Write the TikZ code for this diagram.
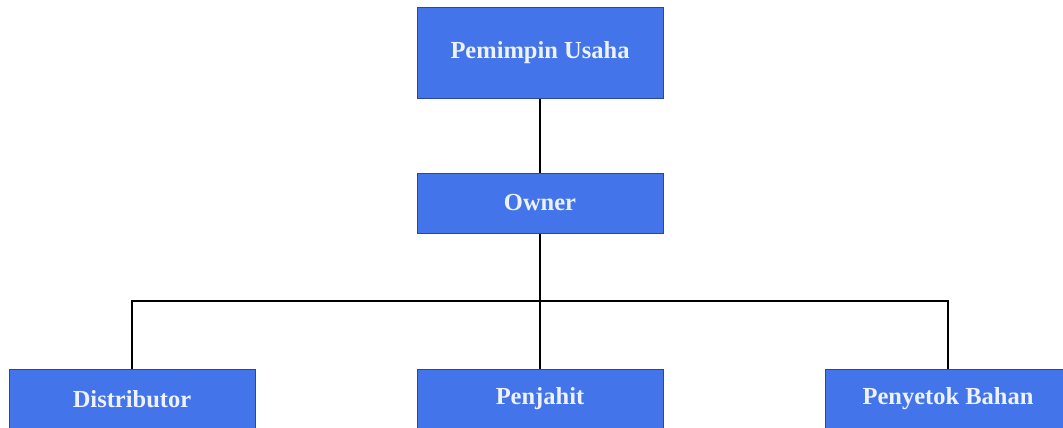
\documentclass[tikz,border=0pt]{standalone}
\usepackage{fontspec}
\setmainfont{Liberation Serif}
\definecolor{boxfill}{RGB}{68,116,234}
\definecolor{boxline}{RGB}{40,70,170}
\definecolor{boxtext}{RGB}{236,242,255}
\begin{document}
\begin{tikzpicture}[x=1pt,y=-1pt,
  orgbox/.style={draw=boxline,line width=1pt,fill=boxfill,rectangle,
    minimum width=246pt,inner sep=0pt,text=boxtext,
    font=\fontsize{24.5}{28}\selectfont\bfseries},
  link/.style={draw=black,line width=1.5pt}]
\useasboundingbox (0,0) rectangle (1063,428);
\clip (0,0) rectangle (1063,428);
\fill[white] (0,0) rectangle (1063,428);
\node[orgbox,minimum height=91pt] (pem) at (540,53) {Pemimpin Usaha};
\node[orgbox,minimum height=60pt] (own) at (540,203) {Owner};
\node[orgbox,minimum height=60pt] (dist) at (132,399) {Distributor};
\node[orgbox,minimum height=60pt] (pen) at (540,399) {Penjahit};
\node[orgbox,minimum height=60pt] (peny) at (948,399) {Penyetok Bahan};
\coordinate (bus) at (540,301);
\draw[link] (pem.south) -- (own.north);
\draw[link] (own.south) -- (pen.north);
\draw[link] (dist.north) |- (bus) -| (peny.north);
\end{tikzpicture}
\end{document}
